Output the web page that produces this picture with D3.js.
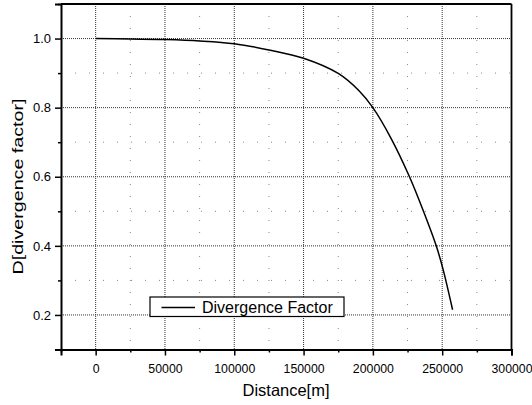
<!DOCTYPE html>
<html><head><meta charset="utf-8">
<script src="https://cdn.jsdelivr.net/npm/d3@7"></script>
<style>
body{margin:0;background:#fff;}
svg{display:block;font-family:"Liberation Sans",Arial,sans-serif;}
</style></head>
<body>
<svg id="c" width="532" height="405"></svg>
<script>
const distance = [0, 25000, 50000, 75000, 100000, 125000, 150000, 175000, 190000, 200000, 213000, 226400, 236500, 245700, 250500, 257500];
const factor   = [1.0, 0.999, 0.997, 0.993, 0.985, 0.967, 0.943, 0.899, 0.849, 0.800, 0.712, 0.600, 0.500, 0.400, 0.334, 0.215];
const xTicks = [0, 50000, 100000, 150000, 200000, 250000, 300000];
const xMinor = [-25000, 25000, 75000, 125000, 175000, 225000, 275000];
const yTicks = [0.2, 0.4, 0.6, 0.8, 1.0];
const yMinor = [0.1, 0.3, 0.5, 0.7, 0.9, 1.1];
const seriesName = "Divergence Factor";
const xTitle = "Distance[m]";
const yTitle = "D[divergence factor]";

const L = 61, R = 511.5, T = 4, B = 349.5;
const x = d3.scaleLinear().domain([-25000, 300000]).range([L, R]);
const y = d3.scaleLinear().domain([0.1, 1.1]).range([B, T]);
const svg = d3.select("#c");

// minor grid (sparse dots)
const g = svg.append("g");
g.selectAll(".mx").data(xMinor.filter(d => d > -25000)).join("line")
  .attr("x1", d => x(d)).attr("x2", d => x(d)).attr("y1", T).attr("y2", B)
  .attr("stroke", "#888").attr("stroke-width", 1).attr("stroke-dasharray", "1,11");
g.selectAll(".my").data(yMinor.filter(d => d > 0.1 && d < 1.1)).join("line")
  .attr("x1", L).attr("x2", R).attr("y1", d => y(d)).attr("y2", d => y(d))
  .attr("stroke", "#888").attr("stroke-width", 1).attr("stroke-dasharray", "1,13");

// major grid
g.selectAll(".gx").data(xTicks.filter(d => d < 300000)).join("line")
  .attr("x1", d => x(d)).attr("x2", d => x(d)).attr("y1", T).attr("y2", B)
  .attr("stroke", "#333").attr("stroke-width", 1).attr("stroke-dasharray", "1,1");
g.selectAll(".gy").data(yTicks).join("line")
  .attr("x1", L).attr("x2", R).attr("y1", d => y(d)).attr("y2", d => y(d))
  .attr("stroke", "#333").attr("stroke-width", 1).attr("stroke-dasharray", "1,1");

// curve
const line = d3.line().x(d => x(d[0])).y(d => y(d[1])).curve(d3.curveCatmullRom.alpha(0.5));
svg.append("path").datum(distance.map((d, i) => [d, factor[i]]))
  .attr("d", line).attr("fill", "none").attr("stroke", "#000").attr("stroke-width", 1.5);

// frame
svg.append("line").attr("x1", L).attr("x2", R).attr("y1", T).attr("y2", T).attr("stroke", "#000").attr("stroke-width", 1.8);
svg.append("line").attr("x1", R).attr("x2", R).attr("y1", T).attr("y2", B).attr("stroke", "#000").attr("stroke-width", 1.8);

// axes
const xAxis = d3.axisBottom(x).tickValues(xTicks).tickSize(6).tickFormat(d3.format("d"));
const xg = svg.append("g").attr("transform", `translate(0,${B})`).call(xAxis);
xg.select(".domain").attr("stroke-width", 2);
xg.selectAll(".tick line").attr("stroke-width", 1.5);
xg.selectAll(".tick text").attr("font-size", 12.3).attr("dy", 0).attr("y", 23).attr("fill", "#000")
  .attr("font-family", "'Liberation Sans',Arial,sans-serif");
const xm = d3.axisBottom(x).tickValues(xMinor).tickSize(3).tickFormat("");
const xmg = svg.append("g").attr("transform", `translate(0,${B})`).call(xm);
xmg.select(".domain").remove();
xmg.selectAll(".tick line").attr("stroke-width", 1.5);

const yAxis = d3.axisLeft(y).tickValues(yTicks).tickSize(6).tickFormat(d3.format(".1f"));
const yg = svg.append("g").attr("transform", `translate(${L},0)`).call(yAxis);
yg.select(".domain").attr("stroke-width", 2);
yg.selectAll(".tick line").attr("stroke-width", 1.5);
yg.selectAll(".tick text").attr("font-size", 13).attr("x", -10).attr("fill", "#000")
  .attr("font-family", "'Liberation Sans',Arial,sans-serif");
const ym = d3.axisLeft(y).tickValues(yMinor).tickSize(3).tickFormat("");
const ymg = svg.append("g").attr("transform", `translate(${L},0)`).call(ym);
ymg.select(".domain").remove();
ymg.selectAll(".tick line").attr("stroke-width", 1.5);

// titles
svg.append("text").attr("x", 286).attr("y", 396).attr("text-anchor", "middle")
  .attr("font-size", 16.5).attr("textLength", 87).attr("lengthAdjust", "spacingAndGlyphs").text(xTitle);
svg.append("text").attr("transform", "translate(23,186.5) rotate(-90)").attr("text-anchor", "middle")
  .attr("font-size", 15).attr("textLength", 176).attr("lengthAdjust", "spacingAndGlyphs").text(yTitle);

// legend
const lg = svg.append("g");
lg.append("rect").attr("x", 150).attr("y", 297).attr("width", 194).attr("height", 19.5)
  .attr("fill", "#fff").attr("stroke", "#000").attr("stroke-width", 1.2);
lg.append("line").attr("x1", 161.5).attr("x2", 195).attr("y1", 307.5).attr("y2", 307.5)
  .attr("stroke", "#000").attr("stroke-width", 1.4);
lg.append("text").attr("x", 202).attr("y", 313).attr("font-size", 16).text(seriesName);
</script>
</body></html>
